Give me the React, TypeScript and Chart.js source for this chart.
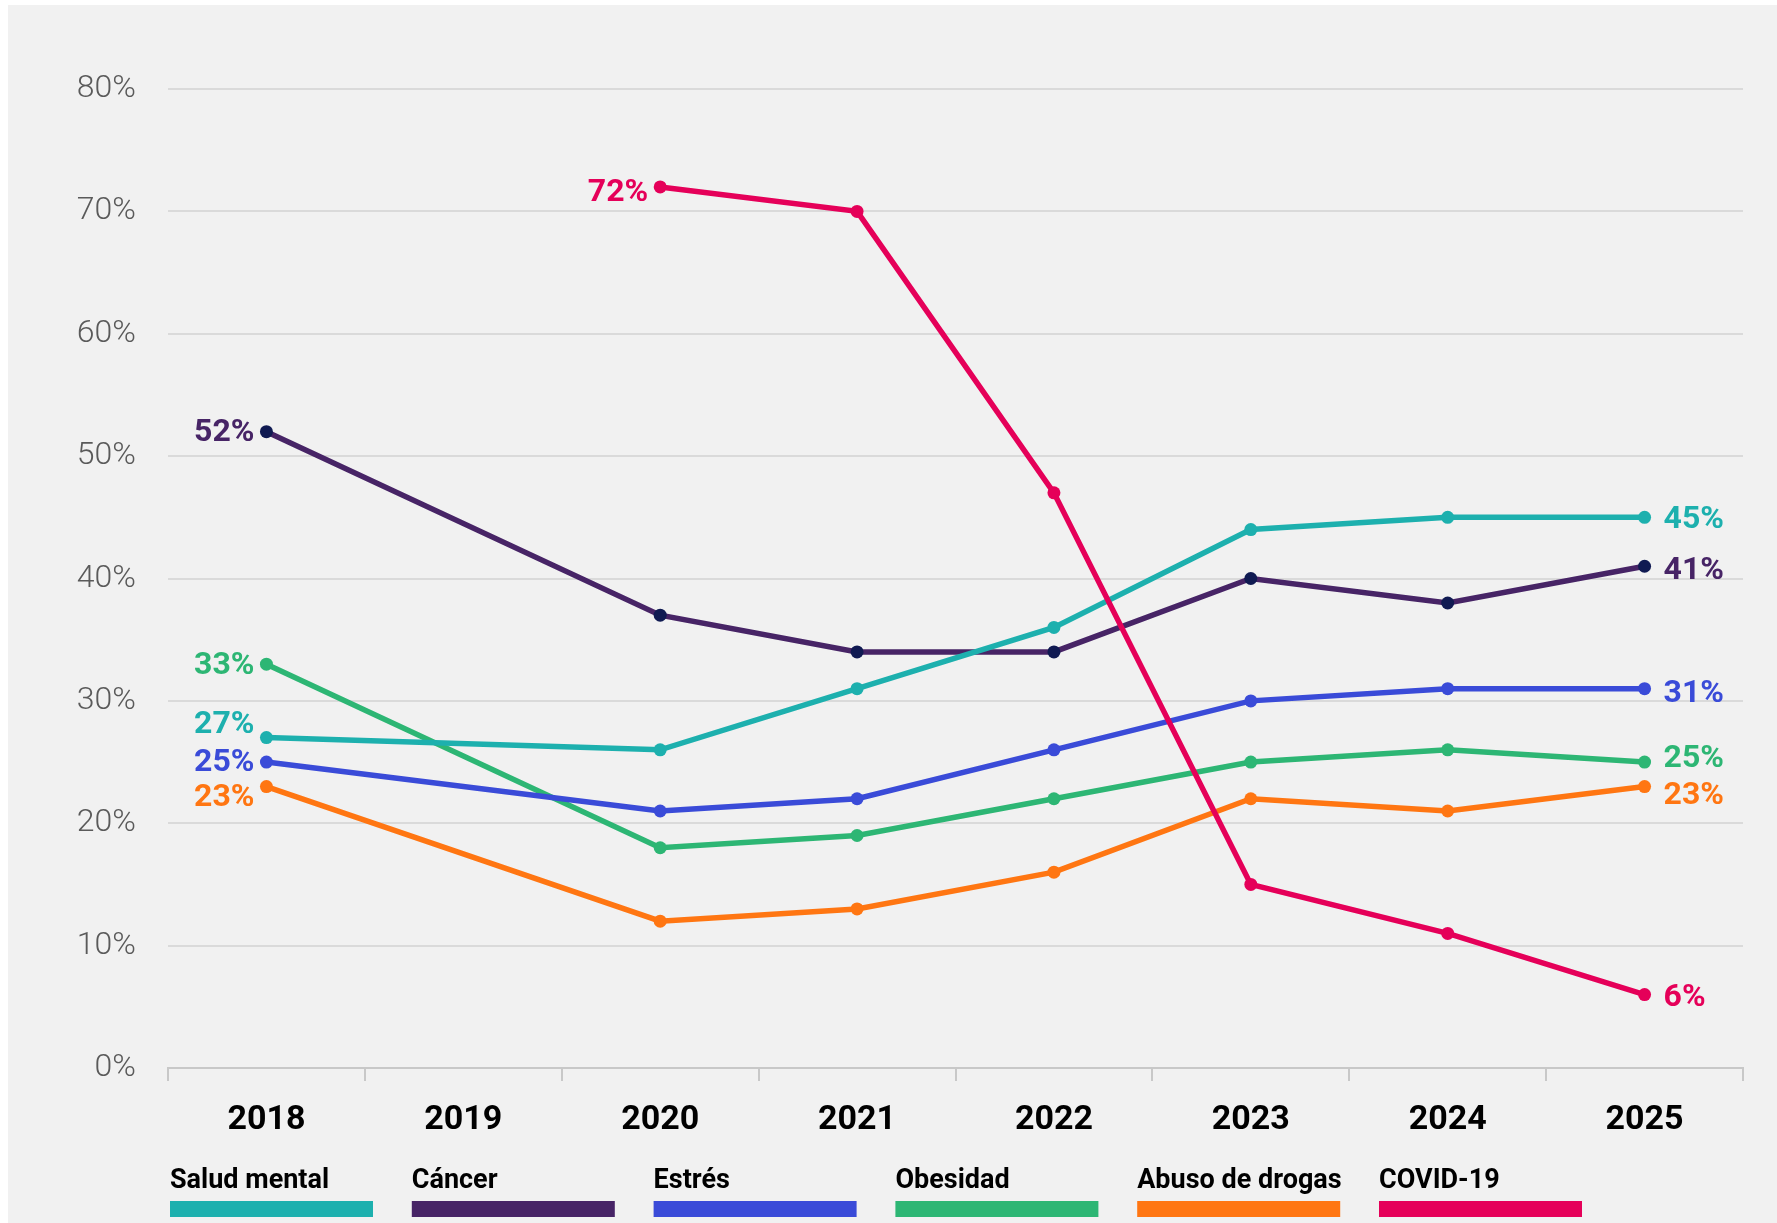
import { useEffect, useRef } from 'react';
import { Chart, registerables } from 'chart.js';

Chart.register(...registerables);

const categories = ['2018', '2019', '2020', '2021', '2022', '2023', '2024', '2025'];

const saludMental = [27, null, 26, 31, 36, 44, 45, 45];
const cancer = [52, null, 37, 34, 34, 40, 38, 41];
const estres = [25, null, 21, 22, 26, 30, 31, 31];
const obesidad = [33, null, 18, 19, 22, 25, 26, 25];
const abusoDrogas = [23, null, 12, 13, 16, 22, 21, 23];
const covid = [null, null, 72, 70, 47, 15, 11, 6];

const seriesNames = ['Salud mental', 'Cáncer', 'Estrés', 'Obesidad', 'Abuso de drogas', 'COVID-19'];
const seriesColors = ['#1db0ae', '#472466', '#3a4bd8', '#2db674', '#ff7612', '#e50059'];
const pointColors = ['#1db0ae', '#101a52', '#3a4bd8', '#2db674', '#ff7612', '#e50059'];

// vertical nudges (px) for the end labels so they don't collide
const labelNudgeStart = [-16, -2, -2, -2, 8, 3];
const labelNudgeEnd = [-1, 1, 2, -6, 6, 0];

const FONT = 'Roboto, "Noto Sans", sans-serif';

const endLabelsPlugin = {
  id: 'endLabels',
  afterDatasetsDraw(chart: any) {
    const ctx = chart.ctx;
    ctx.save();
    ctx.font = `700 32px ${FONT}`;
    ctx.textBaseline = 'alphabetic';
    const capHalf = 0.711 * 32 / 2;
    chart.data.datasets.forEach((ds: any, i: number) => {
      const meta = chart.getDatasetMeta(i);
      const vals = ds.data as (number | null)[];
      let first = -1;
      let last = -1;
      vals.forEach((v, j) => {
        if (v !== null && v !== undefined) {
          if (first < 0) first = j;
          last = j;
        }
      });
      ctx.fillStyle = ds.borderColor;
      if (first >= 0) {
        const p = meta.data[first];
        ctx.textAlign = 'right';
        ctx.fillText(`${vals[first]}%`, p.x - 12, p.y + labelNudgeStart[i] + capHalf);
      }
      if (last >= 0) {
        const p = meta.data[last];
        ctx.textAlign = 'left';
        ctx.fillText(`${vals[last]}%`, p.x + 19, p.y + labelNudgeEnd[i] + capHalf);
      }
    });
    ctx.restore();
  },
};

const bottomLegendPlugin = {
  id: 'bottomLegend',
  afterDraw(chart: any) {
    const ctx = chart.ctx;
    const area = chart.chartArea;
    ctx.save();
    ctx.font = `700 27px ${FONT}`;
    ctx.textAlign = 'left';
    ctx.textBaseline = 'alphabetic';
    chart.data.datasets.forEach((ds: any, i: number) => {
      const x = area.left + 2 + i * 241.8;
      ctx.fillStyle = '#000000';
      ctx.fillText(ds.label, x, 1183);
      ctx.fillStyle = ds.borderColor;
      ctx.fillRect(x, 1196, 203, 16);
    });
    ctx.restore();
  },
};

export default function App() {
  const ref = useRef<HTMLCanvasElement>(null);

  useEffect(() => {
    const values = [saludMental, cancer, estres, obesidad, abusoDrogas, covid];
    const chart = new Chart(ref.current as HTMLCanvasElement, {
      type: 'line',
      data: {
        labels: categories,
        datasets: values.map((d, i) => ({
          label: seriesNames[i],
          data: d,
          borderColor: seriesColors[i],
          backgroundColor: seriesColors[i],
          pointBackgroundColor: pointColors[i],
          pointBorderWidth: 0,
          pointRadius: 6.5,
          borderWidth: 5.5,
          spanGaps: true,
          tension: 0,
          fill: false,
          order: i === 5 ? 0 : 1,
        })),
      },
      options: {
        responsive: false,
        devicePixelRatio: 1,
        animation: false,
        layout: { padding: { left: 0, top: 84, right: 34, bottom: 85 } },
        plugins: {
          legend: { display: false },
          tooltip: { enabled: false },
        },
        scales: {
          x: {
            offset: true,
            afterFit: (s: any) => {
              s.height = 70;
            },
            grid: {
              offset: true,
              drawOnChartArea: false,
              drawTicks: true,
              tickLength: 13,
              color: '#c8c8c8',
              lineWidth: 2,
            },
            border: { display: true, color: '#c8c8c8', width: 2 },
            ticks: {
              color: '#000000',
              font: { family: FONT, size: 34, weight: 'bold' },
              padding: 19,
              maxRotation: 0,
            },
          },
          y: {
            min: 0,
            max: 80,
            afterFit: (s: any) => {
              s.width = 160;
            },
            grid: { color: '#dadada', lineWidth: 2, drawTicks: false },
            border: { display: false },
            ticks: {
              stepSize: 10,
              color: '#5a5a5a',
              font: { family: FONT, size: 32, weight: 300 },
              padding: 32,
              callback: (v: any) => `${v}%`,
            },
          },
        },
      },
      plugins: [endLabelsPlugin, bottomLegendPlugin],
    });
    return () => chart.destroy();
  }, []);

  return (
    <div
      style={{
        position: 'absolute',
        left: 0,
        top: 0,
        width: 1777,
        height: 1223,
        background: '#ffffff',
        overflow: 'hidden',
      }}
    >
      <div
        style={{
          position: 'absolute',
          left: 8,
          top: 5,
          width: 1769,
          height: 1218,
          background: '#f1f1f1',
        }}
      >
        <canvas ref={ref} width={1769} height={1218} style={{ display: 'block', width: 1769, height: 1218 }} />
      </div>
    </div>
  );
}
